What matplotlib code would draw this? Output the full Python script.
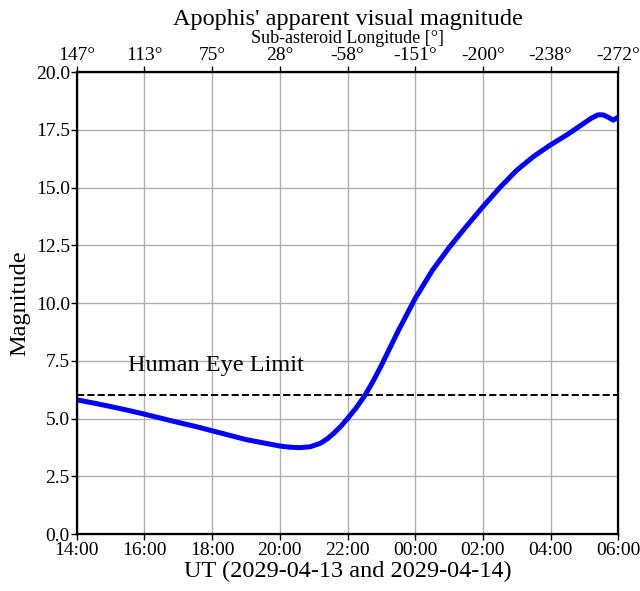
import matplotlib
matplotlib.use("Agg")
import matplotlib.pyplot as plt
import numpy as np

plt.rcParams['font.family'] = 'Liberation Serif'
plt.rcParams['mathtext.fontset'] = 'stix'

# hours since 2029-04-13 14:00 UT
hours = [0, 0.5, 1, 1.5, 2, 2.5, 3, 3.5, 4, 4.5, 5, 5.5, 6, 6.3, 6.6, 6.9,
         7.2, 7.4, 7.6, 7.8, 8, 8.25, 8.5, 8.75, 9, 9.5, 10, 10.5, 11, 11.5,
         12, 12.5, 13, 13.5, 14, 14.5, 15, 15.2, 15.4, 15.55, 15.7, 15.85, 16]
magnitude = [5.81, 5.67, 5.52, 5.36, 5.19, 5.01, 4.83, 4.66, 4.47, 4.28, 4.09,
             3.95, 3.81, 3.76, 3.74, 3.78, 3.93, 4.12, 4.37, 4.66, 5.0, 5.45,
             5.97, 6.6, 7.3, 8.8, 10.2, 11.4, 12.4, 13.3, 14.17, 15.0, 15.75,
             16.35, 16.85, 17.3, 17.8, 18.0, 18.15, 18.15, 18.05, 17.92, 18.05]

time_labels = ['14:00', '16:00', '18:00', '20:00', '22:00', '00:00', '02:00', '04:00', '06:00']
lon_labels = ['147°', '113°', '75°', '28°', '-58°', '-151°', '-200°', '-238°', '-272°']
eye_limit = 6.0

fig = plt.figure(figsize=(6.4, 5.91), dpi=100)
ax = fig.add_axes([0.120, 0.0964, 0.846, 0.7816])

ax.plot(hours, magnitude, color='blue', lw=3.6, solid_capstyle='round',
        solid_joinstyle='round', zorder=3)
ax.axhline(eye_limit, color='black', ls='--', lw=1.4, zorder=2)
ax.text(1.5, 7.3, 'Human Eye Limit', fontsize=17.5, va='center', ha='left')

ticks = np.arange(0, 17, 2)
ax.set_xlim(0, 16)
ax.set_ylim(0, 20)
ax.set_xticks(ticks)
ax.set_xticklabels(time_labels)
ax.set_yticks(np.arange(0, 20.1, 2.5))
ax.set_yticklabels([f'{v:.1f}' for v in np.arange(0, 20.1, 2.5)])
ax.grid(True, color='#b0b0b0', lw=1.0)
ax.tick_params(labelsize=14, width=1.0, length=4, pad=1)
ax.tick_params(axis='x', pad=2)
ax.set_xlabel('UT (2029-04-13 and 2029-04-14)', fontsize=17.5, labelpad=1)
ax.set_ylabel('Magnitude', fontsize=17.5, labelpad=4)
for s in ax.spines.values():
    s.set_linewidth(1.6)

ax2 = ax.twiny()
ax2.set_xlim(ax.get_xlim())
ax2.set_xticks(ticks)
ax2.set_xticklabels(lon_labels)
ax2.tick_params(labelsize=14, width=1.0, length=4, pad=2)
ax2.set_xlabel('Sub-asteroid Longitude [°]', fontsize=13, labelpad=3)
ax2.set_title("Apophis' apparent visual magnitude", fontsize=17.5, pad=0)

fig.savefig('out.png', dpi=100)
